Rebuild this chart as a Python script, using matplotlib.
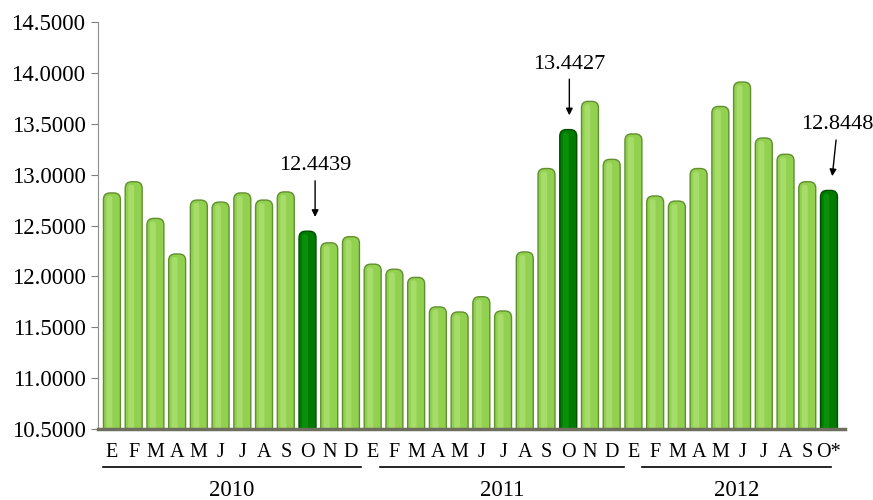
import matplotlib
matplotlib.use("Agg")
import matplotlib.pyplot as plt
import matplotlib.transforms as mtransforms
from matplotlib.patches import FancyBboxPatch

plt.rcParams["font.family"] = ["Liberation Serif", "DejaVu Serif"]

years = ["2010", "2011", "2012"]
months = ["E", "F", "M", "A", "M", "J", "J", "A", "S", "O", "N", "D"]
months_2012 = ["E", "F", "M", "A", "M", "J", "J", "A", "S", "O*"]

values_2010 = [12.82, 12.93, 12.57, 12.22, 12.75, 12.73, 12.82, 12.75, 12.83, 12.4439, 12.33, 12.39]
values_2011 = [12.12, 12.07, 11.99, 11.70, 11.65, 11.80, 11.66, 12.24, 13.06, 13.4427, 13.72, 13.15]
values_2012 = [13.40, 12.79, 12.74, 13.06, 13.67, 13.91, 13.36, 13.20, 12.93, 12.8448]

# bars that get the dark colour and a callout
highlights = [9, 21, 33]

values = values_2010 + values_2011 + values_2012
labels = months + months + months_2012
groups = [len(values_2010), len(values_2011), len(values_2012)]

light = "#92D050"
light_hi = "#A6DC6A"
light_edge = "#5F8F2F"
dark = "#007A00"
dark_hi = "#0A8F0A"
dark_edge = "#004F00"

fig = plt.figure(figsize=(8.73, 5.0), dpi=100)
ax = fig.add_axes([0.1123, 0.142, 0.8557, 0.814])

ax.set_xlim(-0.64, 33.74)
ax.set_ylim(10.5, 14.5)

base = 10.5
x = list(range(len(values)))
colors = [dark if i in highlights else light for i in x]
edges = [dark_edge if i in highlights else light_edge for i in x]
bars = ax.bar(x, [v - base for v in values], bottom=base, width=0.78,
              color=colors, edgecolor=edges, linewidth=1.0, zorder=2)

# swap the flat bars for rounded-top ones (x unit ~21.7px, y unit ~102px)
aspect = (4 / 407) / (1 / 21.73)
for i, b in enumerate(bars):
    b.set_visible(False)
    x0, w, top = b.get_x(), b.get_width(), b.get_y() + b.get_height()
    hi = dark_hi if i in highlights else light_hi
    body = FancyBboxPatch((x0, base - 0.2), w, top - base + 0.2,
                          boxstyle="round,pad=0,rounding_size=0.3",
                          mutation_aspect=aspect, facecolor=b.get_facecolor(),
                          edgecolor=b.get_edgecolor(), linewidth=1.0, zorder=2)
    shine = FancyBboxPatch((x0 + 0.14, base - 0.2), w * 0.35, top - base + 0.2 - 0.03,
                           boxstyle="round,pad=0,rounding_size=0.12",
                           mutation_aspect=aspect, facecolor=hi,
                           edgecolor="none", zorder=2.5)
    ax.add_patch(body)
    ax.add_patch(shine)

ax.set_yticks([10.5 + 0.5 * k for k in range(9)])
ax.set_yticklabels([f"{10.5 + 0.5 * k:.4f}" for k in range(9)], fontsize=16.5)
ax.tick_params(axis="y", direction="out", length=5, color="#808080", pad=4)

ax.set_xticks(x)
ax.set_xticklabels(labels, fontsize=14.5)
ax.tick_params(axis="x", length=0, pad=10)

for side in ["top", "right"]:
    ax.spines[side].set_visible(False)
ax.spines["left"].set_color("#8c8c8c")
ax.spines["bottom"].set_color("#6e6e5e")
ax.spines["bottom"].set_linewidth(2.5)
ax.spines["bottom"].set_zorder(3)

# year brackets under the month labels
trans = mtransforms.blended_transform_factory(ax.transData, ax.transAxes)
left_pad = [0.4, -0.33, -0.39]
right_pad = [0.46, 0.56, 0.09]
start = 0
for year, n, lp, rp in zip(years, groups, left_pad, right_pad):
    x0 = start - lp
    x1 = start + n - 1 + rp
    ax.plot([x0, x1], [-0.0934, -0.0934], color="black", lw=1.2,
            transform=trans, clip_on=False)
    ax.text((x0 + x1) / 2, -0.152, year, transform=trans, ha="center",
            va="center", fontsize=16.5)
    start += n

# callouts for highlighted months
offsets = {9: (0.35, 0.0), 21: (0.05, 0.0), 33: (0.4, 0.25)}
for i in highlights:
    v = values[i]
    dx, dxs = offsets[i]
    ax.annotate(f"{v:.4f}", xy=(i + dx - dxs, v + 0.14), xytext=(i + dx, v + 0.55),
                ha="center", va="bottom", fontsize=16,
                arrowprops=dict(arrowstyle="-|>", color="black", lw=1.0,
                                mutation_scale=10, shrinkA=2, shrinkB=0))

fig.savefig("out.png", dpi=100)
